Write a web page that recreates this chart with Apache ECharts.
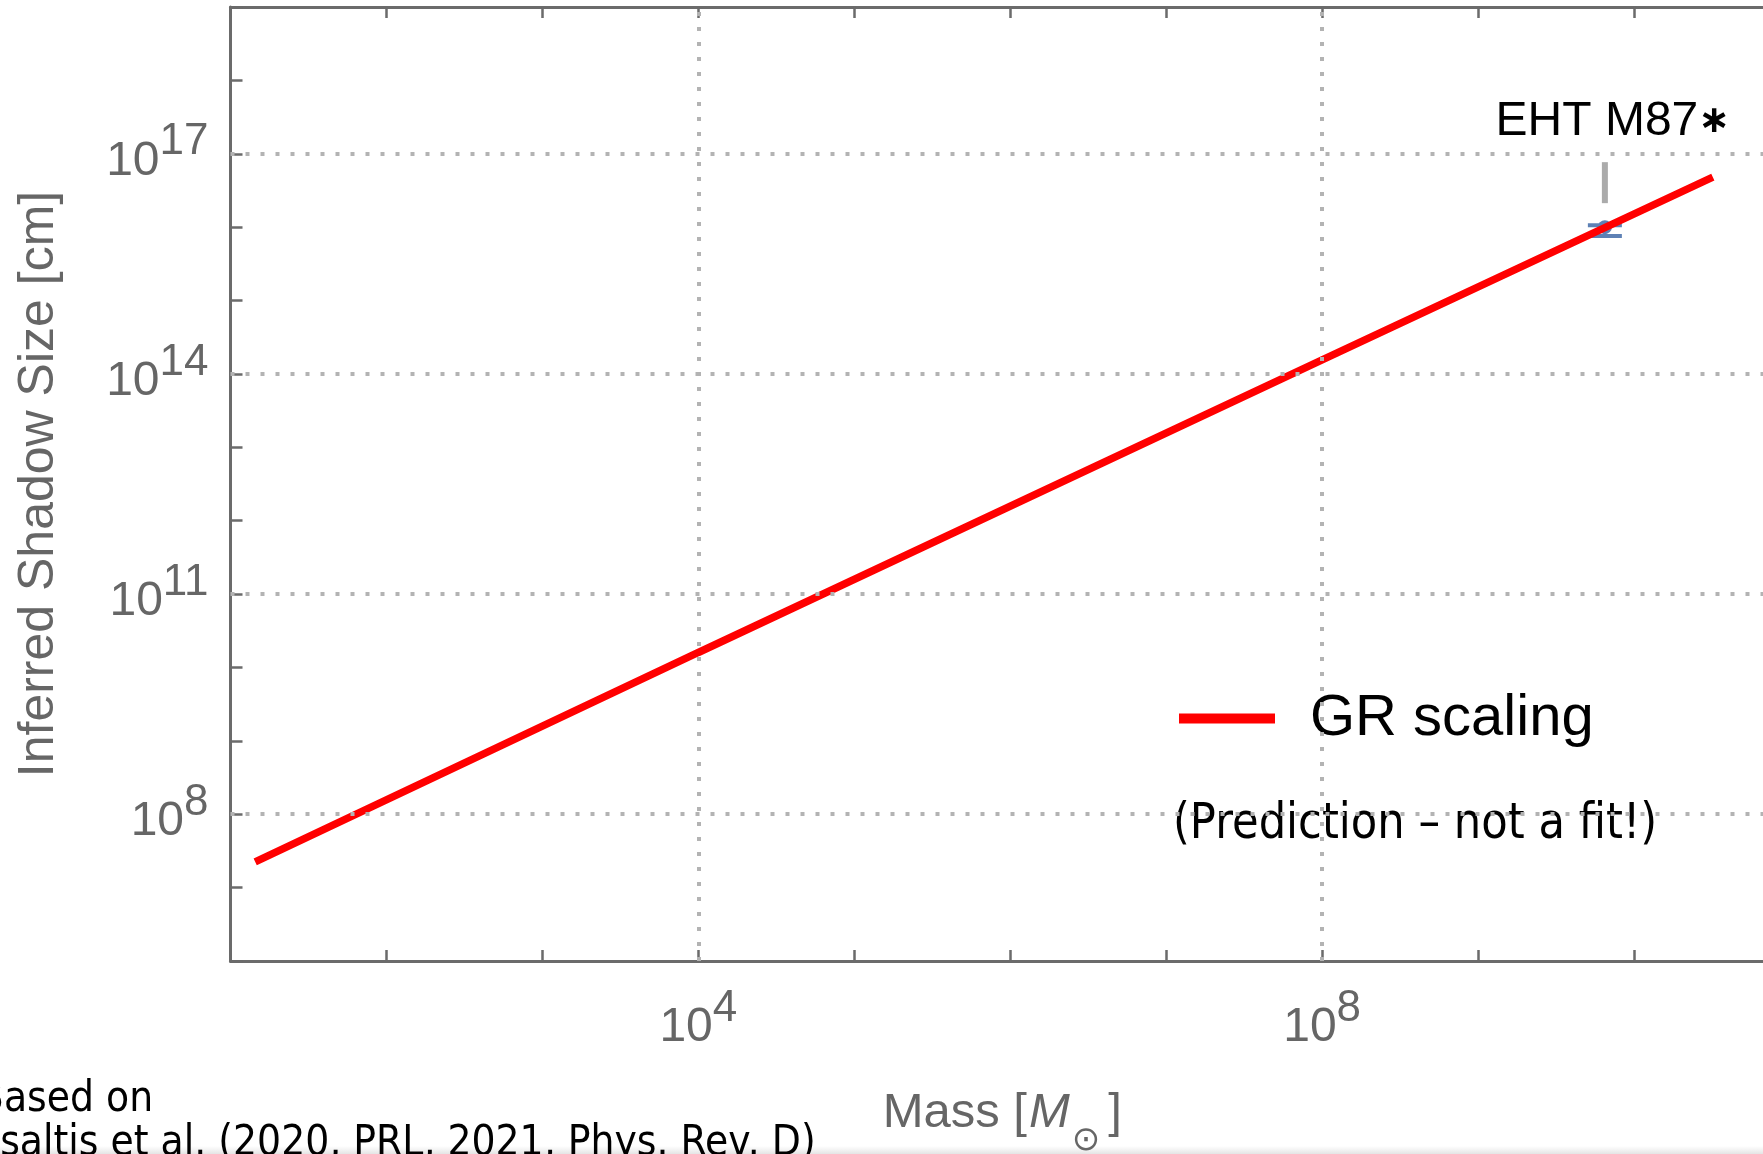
<!DOCTYPE html>
<html>
<head>
<meta charset="utf-8">
<script src="https://cdn.jsdelivr.net/npm/echarts@6/dist/echarts.min.js"></script>
<style>
  html, body { margin: 0; padding: 0; background: #ffffff; }
  #chart { width: 1763px; height: 1154px; }
</style>
</head>
<body>
<div id="chart"></div>
<script>
// GR shadow-size scaling (mass in solar masses, size in cm)
const grMass = [14.4, 1e4, 1e8, 3.2e10];
const grShadow = [2.25e7, 1.6e10, 1.55e14, 4.8e16];

// EHT measurement of M87*
const ehtMass = [6.5e9];
const ehtShadow = [1.0e16];
const ehtShadowLow = [7.6e15];
const ehtShadowHigh = [1.06e16];
const ehtName = 'EHT M87';
const ehtStar = '\u2217';

// Tick labels (powers of ten) and dotted grid positions
const xLabelExponents = [4, 8];
const yLabelExponents = [8, 11, 14, 17];
const gridX = [1e4, 1e8];
const gridY = [1e8, 1e11, 1e14, 1e17];

const legendName = 'GR scaling';
const legendNote = '(Prediction \u2013 not a fit!)';
const sourceLines = ['Based on', 'Psaltis et al. (2020, PRL, 2021, Phys. Rev. D)'];

const SANS = '"Liberation Sans", Arial, sans-serif';
const AXIS_GREY = '#6b6b6b';
const LABEL_GREY = '#666666';

// "10" on a tall line box, exponent pinned to the top of it
const powRich = {
  b: { fontSize: 48, fontFamily: SANS, color: LABEL_GREY, lineHeight: 82 },
  s: { fontSize: 44, fontFamily: SANS, color: LABEL_GREY, lineHeight: 44, verticalAlign: 'top' }
};

function powLabel(list) {
  return function (v) {
    const e = Math.round(Math.log10(v));
    return list.indexOf(e) >= 0 ? '{b|10}{s|' + e + '}' : '';
  };
}

function renderEht(params, api) {
  const m = api.value(0);
  const c = api.coord([m, api.value(1)]);
  const lo = api.coord([m, api.value(2)]);
  const hi = api.coord([m, api.value(3)]);
  const blue = '#5e81b5';
  const capW = 17;
  return {
    type: 'group',
    children: [
      { type: 'rect', shape: { x: c[0] - 150, y: c[1] - 142, width: 295, height: 74 },
        style: { fill: 'rgba(255,255,255,0.72)' } },
      { type: 'line', shape: { x1: c[0], y1: c[1] - 65, x2: c[0], y2: c[1] - 24 },
        style: { stroke: '#ababab', lineWidth: 6 } },
      { type: 'text', x: c[0] + 8, y: c[1] - 105,
        style: {
          text: '{t|' + ehtName + '}{a|' + ehtStar + '}',
          textAlign: 'center', textVerticalAlign: 'middle', verticalAlign: 'middle',
          rich: {
            t: { font: '48px ' + SANS, fill: '#000000', lineHeight: 56 },
            a: { font: 'bold 38px "DejaVu Sans", sans-serif', fill: '#000000', lineHeight: 56 }
          }
        } },
      { type: 'line', shape: { x1: c[0], y1: lo[1], x2: c[0], y2: hi[1] },
        style: { stroke: blue, lineWidth: 3 } },
      { type: 'line', shape: { x1: c[0] - capW, y1: lo[1], x2: c[0] + capW, y2: lo[1] },
        style: { stroke: blue, lineWidth: 4 } },
      { type: 'line', shape: { x1: c[0] - capW, y1: hi[1], x2: c[0] + capW, y2: hi[1] },
        style: { stroke: blue, lineWidth: 4 } },
      { type: 'circle', shape: { cx: c[0], cy: c[1], r: 7 }, style: { fill: blue } }
    ]
  };
}

const chart = echarts.init(document.getElementById('chart'), null, { renderer: 'canvas' });

const option = {
  animation: false,
  backgroundColor: '#ffffff',
  grid: { left: 230.5, top: 7, width: 1559.5, height: 954, containLabel: false, outerBoundsMode: 'none' },
  xAxis: [
    {
      type: 'log', logBase: 10, min: 10, max: 1e11, interval: 1, position: 'bottom',
      axisLine: { show: true, onZero: false, lineStyle: { color: AXIS_GREY, width: 3 } },
      axisTick: { show: true, inside: true, length: 11, lineStyle: { color: AXIS_GREY, width: 2.5 } },
      splitLine: { show: false },
      axisLabel: { margin: 26, formatter: powLabel(xLabelExponents), rich: powRich, hideOverlap: false },
      name: '{n|Mass [}{i|M}{o|\u2299}{n|]}',
      nameLocation: 'middle',
      nameGap: 128,
      nameTextStyle: {
        padding: [0, 16, 0, 0],
        rich: {
          n: { fontSize: 49, fontFamily: SANS, color: LABEL_GREY, lineHeight: 46, verticalAlign: 'top' },
          i: { fontSize: 49, fontFamily: SANS, fontStyle: 'italic', color: LABEL_GREY, lineHeight: 46,
               verticalAlign: 'top', padding: [0, 0, 0, 2] },
          o: { fontSize: 34, fontFamily: '"DejaVu Sans", sans-serif', color: LABEL_GREY, lineHeight: 104,
               padding: [0, 8, 0, 2] }
        }
      }
    },
    {
      type: 'log', logBase: 10, min: 10, max: 1e11, interval: 1, position: 'top',
      axisLine: { show: true, onZero: false, lineStyle: { color: AXIS_GREY, width: 3 } },
      axisTick: { show: true, inside: true, length: 11, lineStyle: { color: AXIS_GREY, width: 2.5 } },
      splitLine: { show: false },
      axisLabel: { show: false }
    }
  ],
  yAxis: [
    {
      type: 'log', logBase: 10, min: 1e6, max: 1e19, interval: 1, position: 'left',
      axisLine: { show: true, onZero: false, lineStyle: { color: AXIS_GREY, width: 3 } },
      axisTick: { show: true, inside: true, length: 12, lineStyle: { color: AXIS_GREY, width: 2.5 } },
      splitLine: { show: false },
      axisLabel: { margin: 22, padding: [15, 0, 0, 0], formatter: powLabel(yLabelExponents),
                   rich: powRich, hideOverlap: false },
      name: 'Inferred Shadow Size [cm]',
      nameLocation: 'middle',
      nameRotate: 90,
      nameGap: 166,
      nameTextStyle: { fontSize: 50, fontFamily: SANS, color: LABEL_GREY }
    }
  ],
  legend: {
    data: [{ name: legendName, icon: 'rect' }],
    left: 1179, top: 689.5, padding: 0,
    itemWidth: 96, itemHeight: 10,
    selectedMode: false,
    itemStyle: { borderWidth: 0 },
    textStyle: { fontSize: 58, fontFamily: SANS, color: '#000000', padding: [16, 0, 0, 30] }
  },
  series: [
    {
      type: 'line', name: 'grid', data: [], z: 1, silent: true,
      markLine: {
        silent: true, symbol: 'none', animation: false,
        label: { show: false },
        lineStyle: { color: '#b3b3b3', width: 4, type: [4, 11] },
        data: gridY.map(v => ({ yAxis: v })).concat(gridX.map(v => ({ xAxis: v })))
      }
    },
    {
      type: 'custom', name: 'EHT', z: 2, silent: true,
      renderItem: renderEht,
      data: ehtMass.map((m, i) => [m, ehtShadow[i], ehtShadowLow[i], ehtShadowHigh[i]])
    },
    {
      type: 'line', name: legendName, z: 3, silent: true,
      data: grMass.map((m, i) => [m, grShadow[i]]),
      symbol: 'none', showSymbol: false,
      lineStyle: { color: '#ff0000', width: 7.5, cap: 'butt' },
      itemStyle: { color: '#ff0000' }
    }
  ],
  graphic: [
    {
      type: 'text', x: 1173, y: 825, scaleX: 0.865, silent: true,
      style: { text: legendNote, font: '50px "DejaVu Sans", sans-serif', fill: '#000000',
               textAlign: 'left', textVerticalAlign: 'middle', verticalAlign: 'middle' }
    },
    {
      type: 'text', x: -22, y: 1100, scaleX: 0.9, silent: true,
      style: { text: sourceLines[0], font: '42px "DejaVu Sans", sans-serif', fill: '#000000',
               textAlign: 'left', textVerticalAlign: 'middle', verticalAlign: 'middle' }
    },
    {
      type: 'text', x: -22, y: 1144, scaleX: 0.9, silent: true,
      style: { text: sourceLines[1], font: '42px "DejaVu Sans", sans-serif', fill: '#000000',
               textAlign: 'left', textVerticalAlign: 'middle', verticalAlign: 'middle' }
    },
    {
      type: 'rect', left: 0, top: 1146, silent: true, z: -1,
      shape: { width: 1763, height: 8 },
      style: { fill: new echarts.graphic.LinearGradient(0, 0, 0, 1, [
        { offset: 0, color: 'rgba(230,230,230,0)' },
        { offset: 1, color: 'rgba(228,228,228,1)' }
      ]) }
    }
  ]
};

chart.setOption(option);
</script>
</body>
</html>
